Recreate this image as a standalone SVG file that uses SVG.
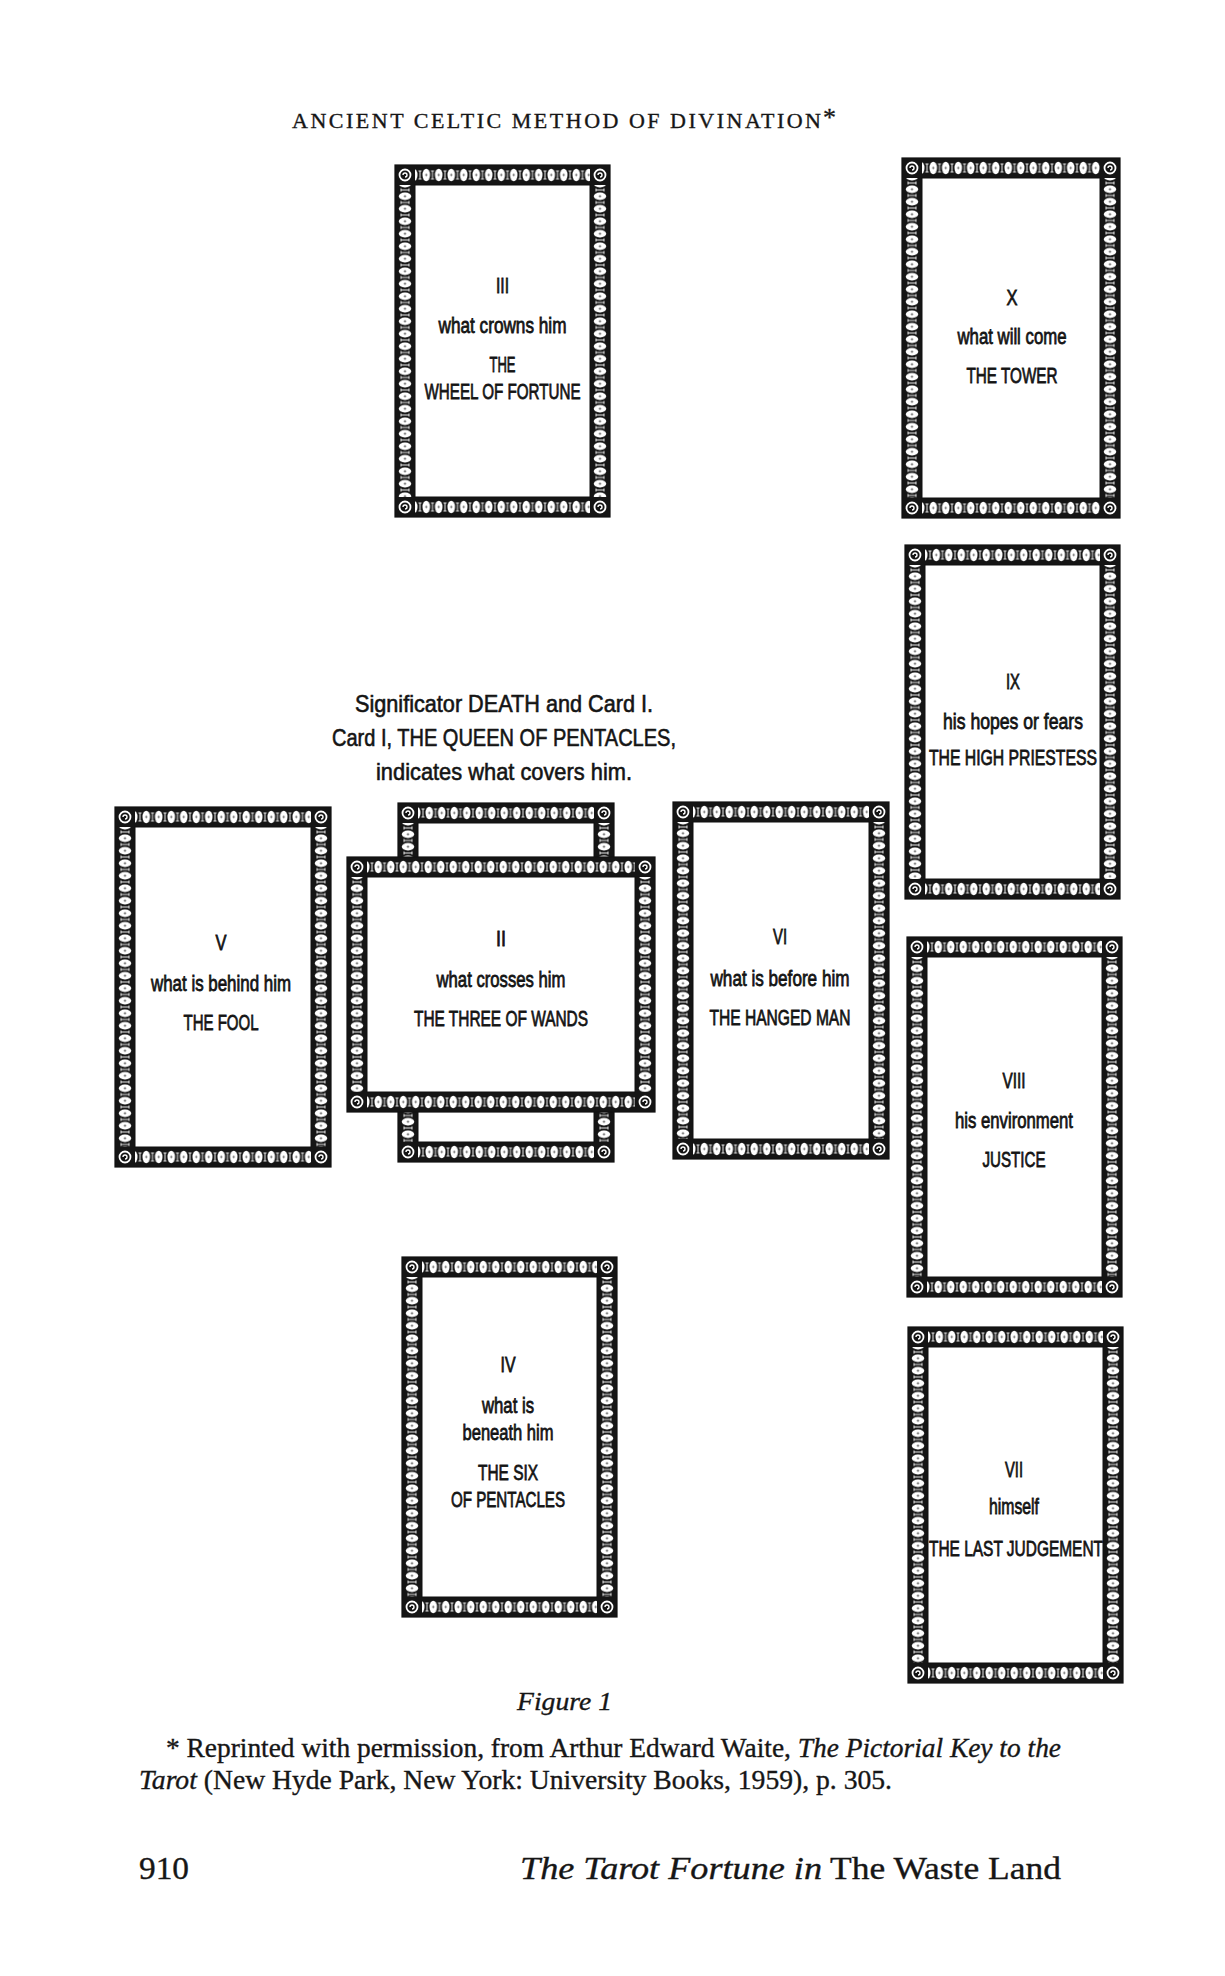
<svg xmlns="http://www.w3.org/2000/svg" xmlns:xlink="http://www.w3.org/1999/xlink" width="1225" height="1976" viewBox="0 0 1225 1976">
<defs>
<style>
.ct{font-family:"Liberation Sans",Arial,sans-serif;font-size:22px;text-anchor:middle;fill:#141414;stroke:#141414;stroke-width:0.8px}
.sig{font-family:"Liberation Sans",Arial,sans-serif;font-size:24px;text-anchor:middle;fill:#141414;stroke:#141414;stroke-width:0.6px}
.serif{font-family:"Liberation Serif","Times New Roman",serif;fill:#161616;stroke:#161616;stroke-width:0.35px}
.face{fill:#fff;stroke:#111;stroke-width:1}
.outline{fill:none;stroke:#111;stroke-width:1.2}
</style>
<pattern id="beadH" patternUnits="userSpaceOnUse" width="12.5" height="20">
<rect width="12.5" height="20" fill="#151515"/>
<ellipse cx="6.25" cy="10" rx="3.8" ry="6.2" fill="#fff"/>
<ellipse cx="6.25" cy="10" rx="0.9" ry="1.4" fill="#777"/>
<g fill="#e8e8e8">
<rect x="-0.5" y="6" width="1" height="8"/><rect x="12" y="6" width="1" height="8"/>
<rect x="-1.5" y="5.5" width="3" height="1"/><rect x="11" y="5.5" width="3" height="1"/>
<rect x="-1.5" y="13.5" width="3" height="1"/><rect x="11" y="13.5" width="3" height="1"/>
</g>
</pattern>
<pattern id="beadV" patternUnits="userSpaceOnUse" width="20" height="12.5">
<rect width="20" height="12.5" fill="#151515"/>
<ellipse cx="10" cy="6.25" rx="6.2" ry="3.8" fill="#fff"/>
<ellipse cx="10" cy="6.25" rx="1.4" ry="0.9" fill="#777"/>
<g fill="#e8e8e8">
<rect y="-0.5" x="6" height="1" width="8"/><rect y="12" x="6" height="1" width="8"/>
<rect y="-1.5" x="5.5" height="3" width="1"/><rect y="11" x="5.5" height="3" width="1"/>
<rect y="-1.5" x="13.5" height="3" width="1"/><rect y="11" x="13.5" height="3" width="1"/>
</g>
</pattern>
<g id="corner">
<rect width="20" height="20" fill="#151515"/>
<circle cx="10" cy="10" r="5.5" fill="none" stroke="#fff" stroke-width="1.8"/>
<path d="M10 10 m-2 0 a2 2 0 1 1 2 2" fill="none" stroke="#fff" stroke-width="1.4"/>
</g>
</defs>
<rect width="1225" height="1976" fill="#fff"/>

<!-- header -->
<g id="header">
<text class="serif" x="292" y="128" font-size="22" textLength="529" lengthAdjust="spacing">ANCIENT CELTIC METHOD OF DIVINATION</text>
<text class="serif" x="823" y="126" font-size="26">*</text>
</g>

<!-- Card III -->
<g id="card-iii" transform="translate(395,165)">
<rect fill="url(#beadH)" width="215" height="20"/>
<rect fill="url(#beadH)" width="215" height="20" transform="translate(0,332)"/>
<rect fill="url(#beadV)" width="20" height="352"/>
<rect fill="url(#beadV)" width="20" height="352" transform="translate(195,0)"/>
<use xlink:href="#corner"/><use xlink:href="#corner" x="195"/><use xlink:href="#corner" y="332"/><use xlink:href="#corner" x="195" y="332"/>
<rect class="face" x="20" y="20" width="175" height="312"/>
<rect class="outline" width="215" height="352"/>
<text class="ct" x="107.5" y="128" textLength="13" lengthAdjust="spacingAndGlyphs">III</text>
<text class="ct" x="107.5" y="168" textLength="128" lengthAdjust="spacingAndGlyphs">what crowns him</text>
<text class="ct" x="107.5" y="207" textLength="26" lengthAdjust="spacingAndGlyphs">THE</text>
<text class="ct" x="107.5" y="234" textLength="156" lengthAdjust="spacingAndGlyphs">WHEEL OF FORTUNE</text>
</g>

<!-- Card X -->
<g id="card-x" transform="translate(902,158)">
<rect fill="url(#beadH)" width="218" height="20"/>
<rect fill="url(#beadH)" width="218" height="20" transform="translate(0,340)"/>
<rect fill="url(#beadV)" width="20" height="360"/>
<rect fill="url(#beadV)" width="20" height="360" transform="translate(198,0)"/>
<use xlink:href="#corner"/><use xlink:href="#corner" x="198"/><use xlink:href="#corner" y="340"/><use xlink:href="#corner" x="198" y="340"/>
<rect class="face" x="20" y="20" width="178" height="320"/>
<rect class="outline" width="218" height="360"/>
<text class="ct" x="110" y="147" textLength="11" lengthAdjust="spacingAndGlyphs">X</text>
<text class="ct" x="110" y="186" textLength="109" lengthAdjust="spacingAndGlyphs">what will come</text>
<text class="ct" x="110" y="225" textLength="91" lengthAdjust="spacingAndGlyphs">THE TOWER</text>
</g>

<!-- Card IX -->
<g id="card-ix" transform="translate(905,545)">
<rect fill="url(#beadH)" width="215" height="20"/>
<rect fill="url(#beadH)" width="215" height="20" transform="translate(0,334)"/>
<rect fill="url(#beadV)" width="20" height="354"/>
<rect fill="url(#beadV)" width="20" height="354" transform="translate(195,0)"/>
<use xlink:href="#corner"/><use xlink:href="#corner" x="195"/><use xlink:href="#corner" y="334"/><use xlink:href="#corner" x="195" y="334"/>
<rect class="face" x="20" y="20" width="175" height="314"/>
<rect class="outline" width="215" height="354"/>
<text class="ct" x="108" y="144" textLength="14" lengthAdjust="spacingAndGlyphs">IX</text>
<text class="ct" x="108" y="184" textLength="140" lengthAdjust="spacingAndGlyphs">his hopes or fears</text>
<text class="ct" x="108" y="220" textLength="168" lengthAdjust="spacingAndGlyphs">THE HIGH PRIESTESS</text>
</g>

<!-- Card VIII -->
<g id="card-viii" transform="translate(907,937)">
<rect fill="url(#beadH)" width="215" height="20"/>
<rect fill="url(#beadH)" width="215" height="20" transform="translate(0,340)"/>
<rect fill="url(#beadV)" width="20" height="360"/>
<rect fill="url(#beadV)" width="20" height="360" transform="translate(195,0)"/>
<use xlink:href="#corner"/><use xlink:href="#corner" x="195"/><use xlink:href="#corner" y="340"/><use xlink:href="#corner" x="195" y="340"/>
<rect class="face" x="20" y="20" width="175" height="320"/>
<rect class="outline" width="215" height="360"/>
<text class="ct" x="107" y="151" textLength="23" lengthAdjust="spacingAndGlyphs">VIII</text>
<text class="ct" x="107" y="191" textLength="118" lengthAdjust="spacingAndGlyphs">his environment</text>
<text class="ct" x="107" y="230" textLength="63" lengthAdjust="spacingAndGlyphs">JUSTICE</text>
</g>

<!-- Card VII -->
<g id="card-vii" transform="translate(908,1327)">
<rect fill="url(#beadH)" width="215" height="20"/>
<rect fill="url(#beadH)" width="215" height="20" transform="translate(0,336)"/>
<rect fill="url(#beadV)" width="20" height="356"/>
<rect fill="url(#beadV)" width="20" height="356" transform="translate(195,0)"/>
<use xlink:href="#corner"/><use xlink:href="#corner" x="195"/><use xlink:href="#corner" y="336"/><use xlink:href="#corner" x="195" y="336"/>
<rect class="face" x="20" y="20" width="175" height="316"/>
<rect class="outline" width="215" height="356"/>
<text class="ct" x="106" y="150" textLength="18" lengthAdjust="spacingAndGlyphs">VII</text>
<text class="ct" x="106" y="187" textLength="50" lengthAdjust="spacingAndGlyphs">himself</text>
<text class="ct" x="108" y="229" textLength="174" lengthAdjust="spacingAndGlyphs">THE LAST JUDGEMENT</text>
</g>

<!-- Card IV -->
<g id="card-iv" transform="translate(402,1257)">
<rect fill="url(#beadH)" width="215" height="20"/>
<rect fill="url(#beadH)" width="215" height="20" transform="translate(0,340)"/>
<rect fill="url(#beadV)" width="20" height="360"/>
<rect fill="url(#beadV)" width="20" height="360" transform="translate(195,0)"/>
<use xlink:href="#corner"/><use xlink:href="#corner" x="195"/><use xlink:href="#corner" y="340"/><use xlink:href="#corner" x="195" y="340"/>
<rect class="face" x="20" y="20" width="175" height="320"/>
<rect class="outline" width="215" height="360"/>
<text class="ct" x="106" y="115" textLength="15" lengthAdjust="spacingAndGlyphs">IV</text>
<text class="ct" x="106" y="156" textLength="52" lengthAdjust="spacingAndGlyphs">what is</text>
<text class="ct" x="106" y="183" textLength="91" lengthAdjust="spacingAndGlyphs">beneath him</text>
<text class="ct" x="106" y="223" textLength="60" lengthAdjust="spacingAndGlyphs">THE SIX</text>
<text class="ct" x="106" y="250" textLength="114" lengthAdjust="spacingAndGlyphs">OF PENTACLES</text>
</g>

<!-- Card VI -->
<g id="card-vi" transform="translate(673,802)">
<rect fill="url(#beadH)" width="216" height="20"/>
<rect fill="url(#beadH)" width="216" height="20" transform="translate(0,337)"/>
<rect fill="url(#beadV)" width="20" height="357"/>
<rect fill="url(#beadV)" width="20" height="357" transform="translate(196,0)"/>
<use xlink:href="#corner"/><use xlink:href="#corner" x="196"/><use xlink:href="#corner" y="337"/><use xlink:href="#corner" x="196" y="337"/>
<rect class="face" x="20" y="20" width="176" height="317"/>
<rect class="outline" width="216" height="357"/>
<text class="ct" x="107" y="142" textLength="14" lengthAdjust="spacingAndGlyphs">VI</text>
<text class="ct" x="107" y="184" textLength="139" lengthAdjust="spacingAndGlyphs">what is before him</text>
<text class="ct" x="107" y="223" textLength="141" lengthAdjust="spacingAndGlyphs">THE HANGED MAN</text>
</g>

<!-- Card V -->
<g id="card-v" transform="translate(115,807)">
<rect fill="url(#beadH)" width="216" height="20"/>
<rect fill="url(#beadH)" width="216" height="20" transform="translate(0,340)"/>
<rect fill="url(#beadV)" width="20" height="360"/>
<rect fill="url(#beadV)" width="20" height="360" transform="translate(196,0)"/>
<use xlink:href="#corner"/><use xlink:href="#corner" x="196"/><use xlink:href="#corner" y="340"/><use xlink:href="#corner" x="196" y="340"/>
<rect class="face" x="20" y="20" width="176" height="320"/>
<rect class="outline" width="216" height="360"/>
<text class="ct" x="106" y="143" textLength="11" lengthAdjust="spacingAndGlyphs">V</text>
<text class="ct" x="106" y="184" textLength="140" lengthAdjust="spacingAndGlyphs">what is behind him</text>
<text class="ct" x="106" y="223" textLength="75" lengthAdjust="spacingAndGlyphs">THE FOOL</text>
</g>

<!-- Card I (covered) -->
<g id="card-i" transform="translate(398,803)">
<rect fill="url(#beadH)" width="216" height="20"/>
<rect fill="url(#beadH)" width="216" height="20" transform="translate(0,339)"/>
<rect fill="url(#beadV)" width="20" height="359"/>
<rect fill="url(#beadV)" width="20" height="359" transform="translate(196,0)"/>
<use xlink:href="#corner"/><use xlink:href="#corner" x="196"/><use xlink:href="#corner" y="339"/><use xlink:href="#corner" x="196" y="339"/>
<rect class="face" x="20" y="20" width="176" height="319"/>
<rect class="outline" width="216" height="359"/>
</g>

<!-- Card II (crossing) -->
<g id="card-ii" transform="translate(347,857)">
<rect fill="url(#beadH)" width="308" height="20"/>
<rect fill="url(#beadH)" width="308" height="20" transform="translate(0,235)"/>
<rect fill="url(#beadV)" width="20" height="255"/>
<rect fill="url(#beadV)" width="20" height="255" transform="translate(288,0)"/>
<use xlink:href="#corner"/><use xlink:href="#corner" x="288"/><use xlink:href="#corner" y="235"/><use xlink:href="#corner" x="288" y="235"/>
<rect class="face" x="20" y="20" width="268" height="215"/>
<rect class="outline" width="308" height="255"/>
<text class="ct" x="154" y="89" textLength="10" lengthAdjust="spacingAndGlyphs">II</text>
<text class="ct" x="154" y="130" textLength="129" lengthAdjust="spacingAndGlyphs">what crosses him</text>
<text class="ct" x="154" y="169" textLength="174" lengthAdjust="spacingAndGlyphs">THE THREE OF WANDS</text>
</g>

<g id="connectors"/>

<!-- Significator caption -->
<g id="significator">
<text class="sig" x="504" y="712" textLength="298" lengthAdjust="spacingAndGlyphs">Significator DEATH and Card I.</text>
<text class="sig" x="504" y="746" textLength="344" lengthAdjust="spacingAndGlyphs">Card I, THE QUEEN OF PENTACLES,</text>
<text class="sig" x="504" y="780" textLength="256" lengthAdjust="spacingAndGlyphs">indicates what covers him.</text>
</g>

<!-- Figure caption and footnote -->
<g id="caption">
<text class="serif" x="517" y="1710" font-size="26" font-style="italic" textLength="95" lengthAdjust="spacingAndGlyphs">Figure 1</text>
<text class="serif" x="166" y="1757" font-size="27" textLength="895" lengthAdjust="spacingAndGlyphs">* Reprinted with permission, from Arthur Edward Waite, <tspan font-style="italic">The Pictorial Key to the</tspan></text>
<text class="serif" x="139" y="1789" font-size="27" textLength="753" lengthAdjust="spacingAndGlyphs"><tspan font-style="italic">Tarot</tspan> (New Hyde Park, New York: University Books, 1959), p. 305.</text>
</g>

<g id="footer">
<text class="serif" x="139" y="1879" font-size="32" textLength="50" lengthAdjust="spacingAndGlyphs">910</text>
<text class="serif" x="520" y="1879" font-size="32" font-style="italic" textLength="302" lengthAdjust="spacingAndGlyphs">The Tarot Fortune in</text>
<text class="serif" x="830" y="1879" font-size="32" textLength="231" lengthAdjust="spacingAndGlyphs">The Waste Land</text>
</g>
</svg>
